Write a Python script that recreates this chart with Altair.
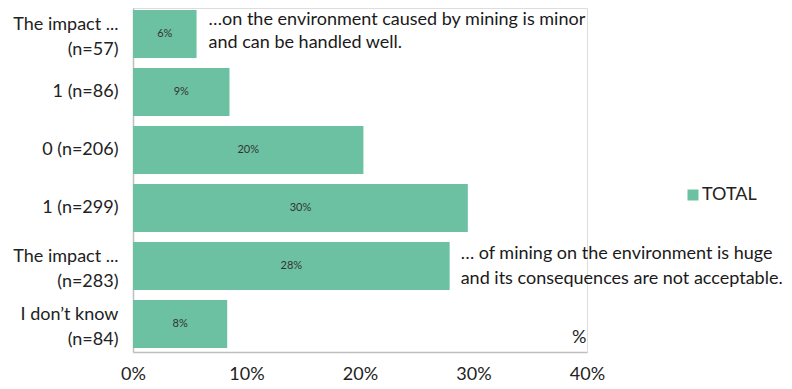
import altair as alt
import pandas as pd

categories = [
    "The impact ...\n(n=57)",
    "1 (n=86)",
    "0 (n=206)",
    "1 (n=299)",
    "The impact ...\n(n=283)",
    "I don\u2019t know\n(n=84)",
]
values = [5.6, 8.5, 20.3, 29.5, 27.9, 8.3]
value_labels = ["6%", "9%", "20%", "30%", "28%", "8%"]
series = ["TOTAL"] * 6

note_top = "\u2026on the environment caused by mining is minor\nand can be handled well."
note_bottom = "\u2026 of mining on the environment is huge\nand its consequences are not acceptable."

df = pd.DataFrame({"cat": categories, "val": values, "lab": value_labels, "series": series})

FONT = "Lato"
FS = 18
BAR = "#6cc1a2"

y_enc = alt.Y(
    "cat:N",
    sort=categories,
    title=None,
    scale=alt.Scale(paddingInner=0.1724, paddingOuter=0.0517, align=0.333),
    axis=alt.Axis(
        labelExpr="split(datum.label, '\\n')",
        labelFont=FONT,
        labelFontSize=FS,
        labelColor="#222222",
        labelLineHeight=25,
        labelPadding=15,
        labelOffset={"condition": {"test": "indexof(datum.value, '\\n') >= 0", "value": -9}, "value": 0},
        ticks=False,
        domainColor="#bfbfbf",
        domainWidth=1.5,
        labelLimit=200,
    ),
)

x_enc = alt.X(
    "val:Q",
    scale=alt.Scale(domain=[0, 40], nice=False),
    axis=alt.Axis(
        values=[0, 10, 20, 30, 40],
        labelExpr="datum.value + '%'",
        labelFont=FONT,
        labelFontSize=FS,
        labelColor="#222222",
        labelPadding=13,
        labelFlush=False,
        ticks=False,
        grid=False,
        domainColor="#bfbfbf",
        domainWidth=1.5,
        title="%",
        titleFont=FONT,
        titleFontSize=FS,
        titleFontWeight="normal",
        titleColor="#222222",
        titleAnchor="end",
        titleAlign="right",
        titleBaseline="middle",
        titleX=453,
        titleY=-15,
    ),
)

bars = alt.Chart(df).mark_bar(color=BAR).encode(
    x=x_enc,
    y=y_enc,
    color=alt.Color(
        "series:N",
        scale=alt.Scale(range=[BAR]),
        legend=alt.Legend(
            title=None,
            orient="none",
            legendX=551,
            legendY=178,
            symbolType="square",
            symbolSize=121,
            symbolStrokeWidth=0,
            labelFont=FONT,
            labelFontSize=FS,
            labelColor="#222222",
            labelOffset=0,
            padding=0,
        ),
    ),
)

inner = alt.Chart(df).transform_calculate(mid="datum.val / 2").mark_text(
    font=FONT, fontSize=11, color="#333333", baseline="middle", align="center"
).encode(
    x=alt.X("mid:Q", scale=alt.Scale(domain=[0, 40], nice=False)),
    y=alt.Y("cat:N", sort=categories),
    text="lab:N",
)

top_df = pd.DataFrame({"cat": [categories[0]], "val": [values[0]], "txt": [note_top]})
bot_df = pd.DataFrame({"cat": [categories[4]], "val": [values[4]], "txt": [note_bottom]})

note1 = alt.Chart(top_df).mark_text(
    font=FONT, fontSize=FS, color="#1a1a1a", align="left", baseline="middle",
    dx=12, dy=-14, lineBreak="\n", lineHeight=23,
).encode(
    x=alt.X("val:Q", scale=alt.Scale(domain=[0, 40], nice=False)),
    y=alt.Y("cat:N", sort=categories),
    text="txt:N",
)

note2 = alt.Chart(bot_df).mark_text(
    font=FONT, fontSize=FS, color="#1a1a1a", align="left", baseline="middle",
    dx=11, dy=-12, lineBreak="\n", lineHeight=25,
).encode(
    x=alt.X("val:Q", scale=alt.Scale(domain=[0, 40], nice=False)),
    y=alt.Y("cat:N", sort=categories),
    text="txt:N",
)

chart = alt.layer(bars, inner, note1, note2).properties(
    width=454,
    height=344,
    autosize=alt.AutoSizeParams(type="none"),
    padding={"left": 125, "top": 0, "right": 197, "bottom": 34},
).configure_view(stroke=None).configure(background="white")

chart.save("out.html", embed_options={"renderer": "svg", "actions": False})
